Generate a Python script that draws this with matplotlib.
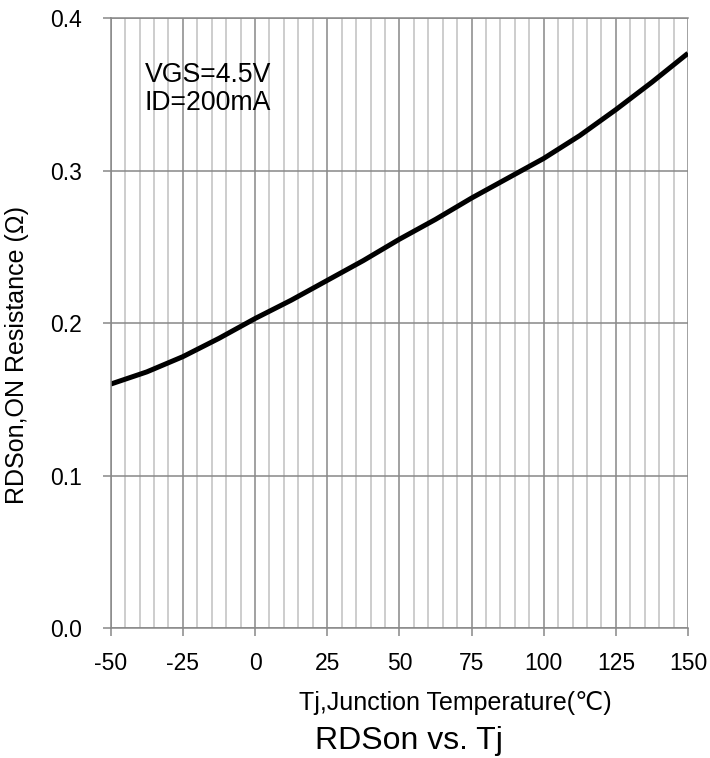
import numpy as np
import matplotlib
matplotlib.use('Agg')
import matplotlib.pyplot as plt

plt.rcParams['font.family'] = ['Liberation Sans', 'DejaVu Sans']
plt.rcParams['axes.unicode_minus'] = False

tj = [-50, -37.5, -25, -12.5, 0, 12.5, 25, 37.5, 50, 62.5, 75, 87.5, 100, 112.5, 125, 137.5, 150]
rdson = [0.160, 0.168, 0.178, 0.190, 0.203, 0.215, 0.228, 0.241, 0.255,
         0.268, 0.282, 0.295, 0.308, 0.323, 0.340, 0.358, 0.377]
xticks = [-50, -25, 0, 25, 50, 75, 100, 125, 150]
yticks = [0.0, 0.1, 0.2, 0.3, 0.4]

fig = plt.figure(figsize=(7.1, 7.58), dpi=100)
ax = fig.add_axes([0.156, 0.1715, 0.813, 0.8045])

ax.set_xlim(-50, 150)
ax.set_ylim(0, 0.4)
ax.set_xticks(xticks)
ax.set_xticks(np.arange(-50, 151, 5), minor=True)
ax.set_yticks(yticks)
ax.set_yticklabels(['%.1f' % v for v in yticks])

ax.grid(which='major', color='#888888', linewidth=1.1)
ax.grid(which='minor', axis='x', color='#c0c0c0', linewidth=1.1)
ax.set_axisbelow(True)

ax.spines['right'].set_visible(False)
for s in ['left', 'bottom', 'top']:
    ax.spines[s].set_color('#888888')
    ax.spines[s].set_linewidth(1.1)

ax.tick_params(axis='both', which='major', length=6, color='#888888', width=1.1,
               labelsize=16.5)
ax.tick_params(axis='x', which='major', pad=11)
ax.tick_params(axis='y', which='major', pad=14.5)
ax.tick_params(axis='x', which='minor', length=0)

ax.plot(tj, rdson, color='black', linewidth=3.6, solid_capstyle='butt')

ax.text(-38.2, 0.371, 'VGS=4.5V\nID=200mA', fontsize=19.2, va='top', ha='left', linespacing=1.08)

fig.text(455 / 710, 1 - 710 / 758, 'Tj,Junction Temperature(℃)', fontsize=18,
         ha='center', va='baseline')
fig.text(17 / 710, 1 - 355 / 758, 'RDSon,ON Resistance (Ω)', fontsize=18,
         ha='center', va='center', rotation=90)
fig.text(409 / 710, 1 - 749 / 758, 'RDSon vs. Tj', fontsize=23, ha='center', va='baseline')

fig.savefig('out.png', dpi=100)
